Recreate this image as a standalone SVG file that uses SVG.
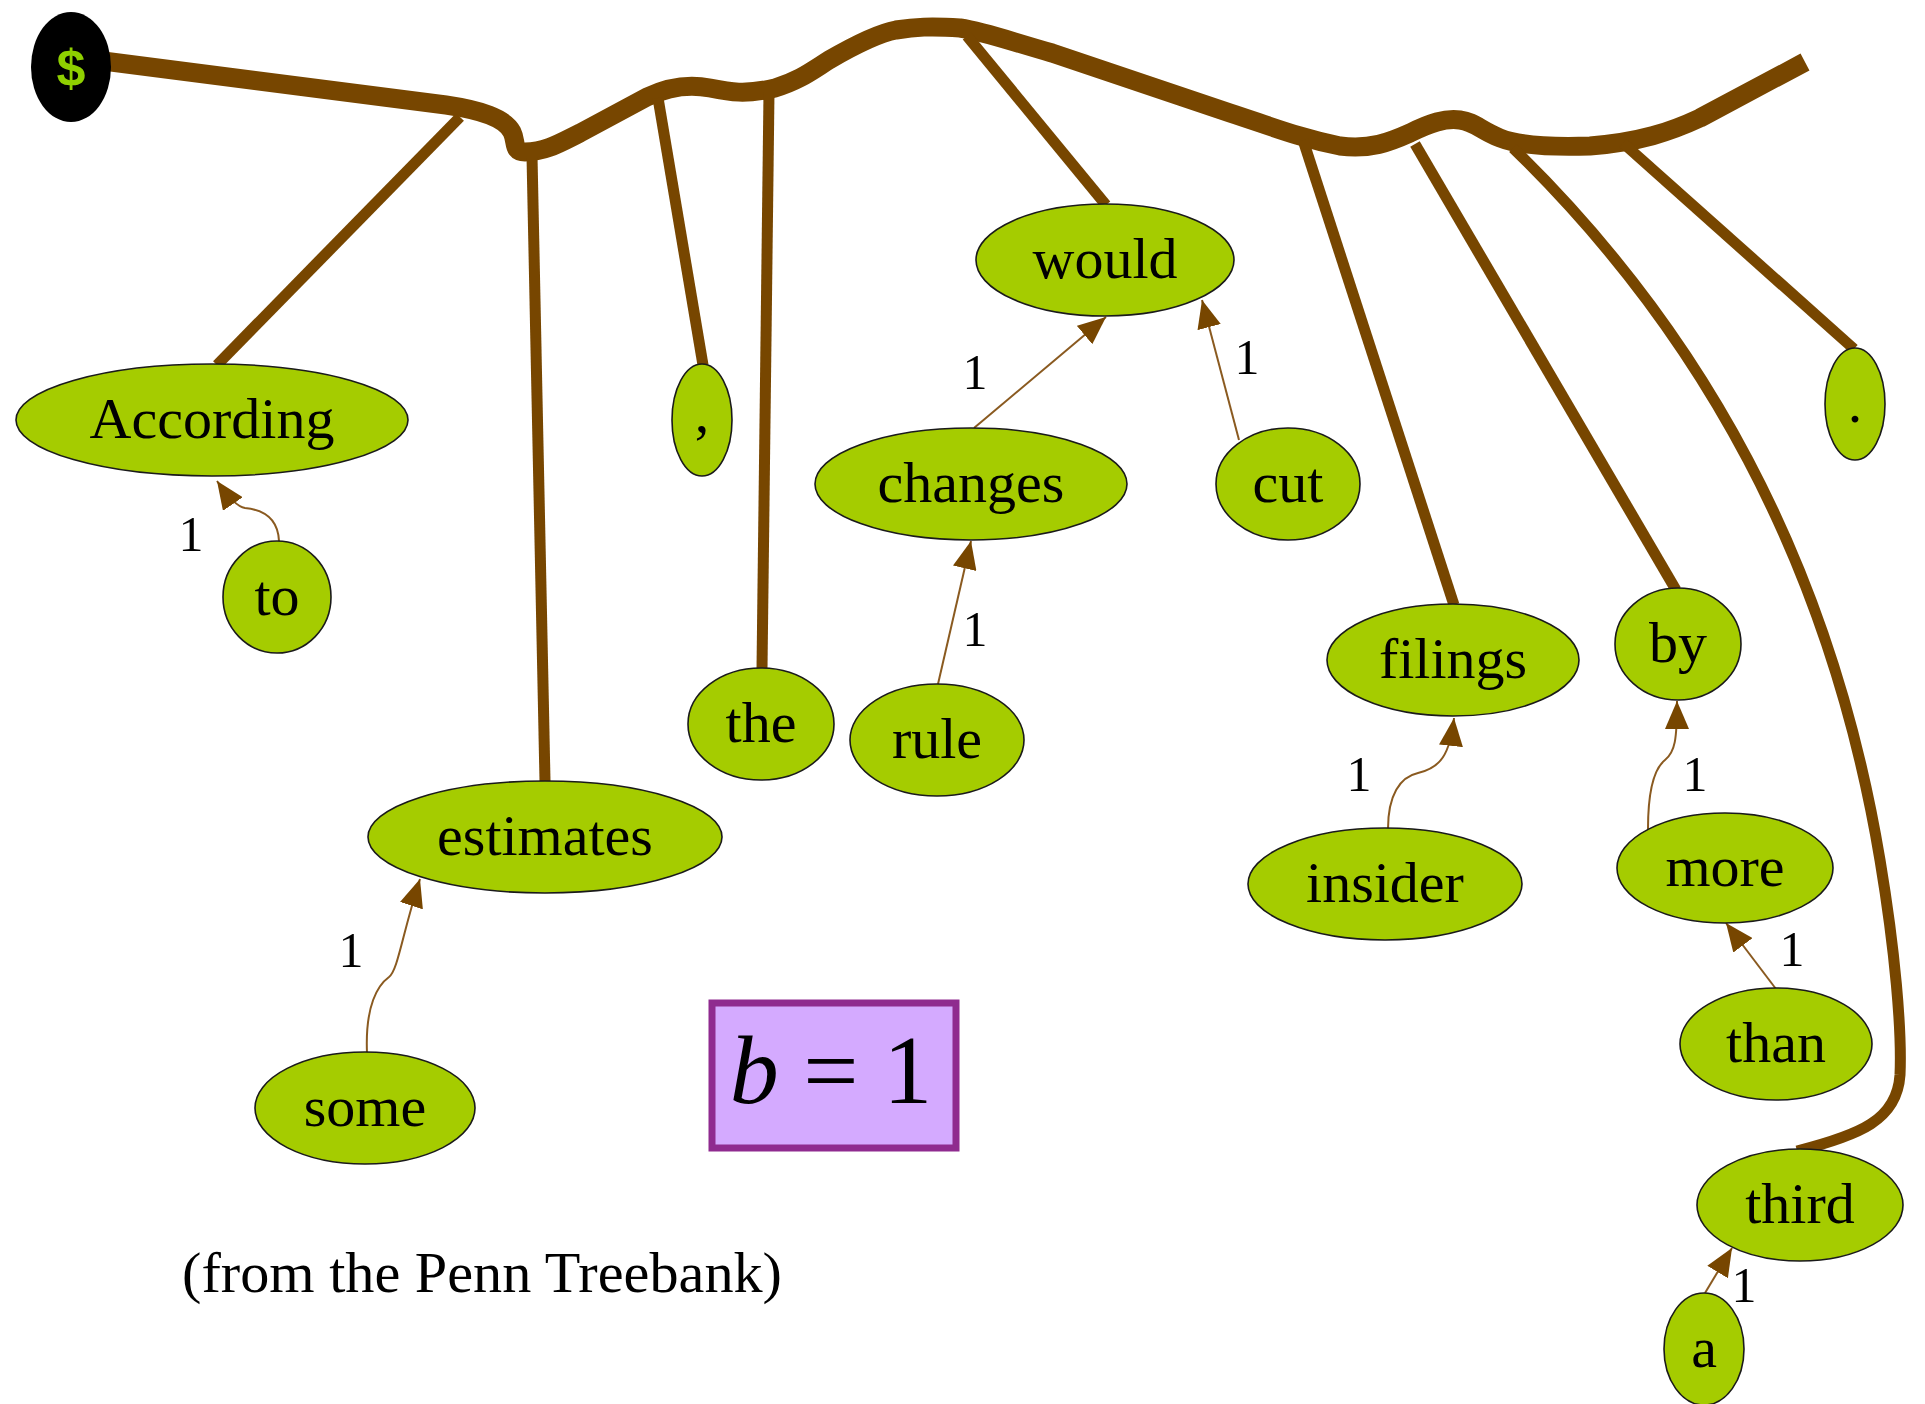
<svg xmlns="http://www.w3.org/2000/svg" width="1925" height="1404" viewBox="0 0 1925 1404">
<defs>
<style>
.bb{fill:none;stroke:#774600;stroke-width:19;stroke-linejoin:round}
.br{fill:none;stroke:#774600;stroke-width:11}
.ar{fill:none;stroke:#8a5a20;stroke-width:2}
.nd{fill:#a5cc00;stroke:#1a1a1a;stroke-width:1.6}
.tx{font-family:"Liberation Serif","Times New Roman",serif;font-size:58px;fill:#000;text-anchor:middle}
.lb{font-family:"Liberation Serif","Times New Roman",serif;font-size:50px;fill:#000;text-anchor:middle}
</style>
<marker id="ah" markerUnits="userSpaceOnUse" viewBox="0 0 28 24" refX="28" refY="12" markerWidth="28" markerHeight="24" orient="auto"><path d="M0,0 L28,12 L0,24 z" fill="#774600"/></marker>
</defs>
<rect width="1925" height="1404" fill="#fff"/>
<g id="connectors">
<path class="bb" d="M80,58 L446,105 C480,110 505,118 512,132 C517,142 512,152 525,152 C545,152 560,143 580,133 L647,97 C670,86 690,84 710,88 C730,92 745,95 775,88 C800,80 810,72 829,60 C860,42 880,33 896,30 C915,27 930,26 960,28 C985,32 1000,38 1052,53 L1141,83 L1230,113 C1270,126 1300,138 1340,146 C1370,150 1390,142 1410,133 C1430,123 1445,118 1460,120 C1475,122 1480,130 1500,138 C1520,146 1560,147 1590,146 C1640,142 1670,132 1700,118 L1805,62"/>
<path class="br" d="M460,117 L217,365"/>
<path class="br" d="M532,156 L545,781"/>
<path class="br" d="M658,98 L703,365"/>
<path class="br" d="M769,92 L762,669"/>
<path class="br" d="M967,36 L1106,205"/>
<path class="br" d="M1303,140 L1454,605"/>
<path class="br" d="M1415,144 L1676,590"/>
<path class="br" d="M1513,148 C1700,330 1830,560 1880,860 C1895,950 1902,1030 1900,1075 C1897,1120 1860,1135 1797,1151"/>
<path class="br" d="M1623,143 L1854,349"/>
<path class="ar" marker-end="url(#ah)" d="M279,541 C278,520 265,510 245,508 C238,507 228,497 217,481"/>
<path class="ar" marker-end="url(#ah)" d="M367,1053 C365,1005 378,985 389,977 C398,970 402,935 420,879"/>
<path class="ar" marker-end="url(#ah)" d="M974,428 L1106,317"/>
<path class="ar" marker-end="url(#ah)" d="M1239,440 L1202,300"/>
<path class="ar" marker-end="url(#ah)" d="M938,684 L971,541"/>
<path class="ar" marker-end="url(#ah)" d="M1388,829 C1388,795 1400,777 1418,773 C1440,768 1450,755 1454,718"/>
<path class="ar" marker-end="url(#ah)" d="M1648,829 C1648,790 1655,768 1665,760 C1675,752 1677,740 1677,701"/>
<path class="ar" marker-end="url(#ah)" d="M1776,989 L1726,923"/>
<path class="ar" marker-end="url(#ah)" d="M1705,1293 L1732,1248"/>
<text class="lb" x="191" y="551">1</text>
<text class="lb" x="351" y="967">1</text>
<text class="lb" x="975" y="389">1</text>
<text class="lb" x="1247" y="374">1</text>
<text class="lb" x="975" y="646">1</text>
<text class="lb" x="1359" y="791">1</text>
<text class="lb" x="1695" y="791">1</text>
<text class="lb" x="1792" y="966">1</text>
<text class="lb" x="1744" y="1302">1</text>
</g>
<g id="root"><ellipse cx="71" cy="67" rx="40" ry="55" fill="#000"/><text x="71" y="86" font-family="Liberation Sans, Arial, sans-serif" font-weight="bold" font-size="52" fill="#8fd000" text-anchor="middle">$</text></g>
<g id="n-according"><ellipse class="nd" cx="212" cy="420" rx="196" ry="56"/><text class="tx" x="212" y="438">According</text></g>
<g id="n-to"><ellipse class="nd" cx="277" cy="597" rx="54" ry="56"/><text class="tx" x="277" y="615">to</text></g>
<g id="n-estimates"><ellipse class="nd" cx="545" cy="837" rx="177" ry="56"/><text class="tx" x="545" y="855">estimates</text></g>
<g id="n-some"><ellipse class="nd" cx="365" cy="1108" rx="110" ry="56"/><text class="tx" x="365" y="1126">some</text></g>
<g id="n-comma"><ellipse class="nd" cx="702" cy="420" rx="30" ry="56"/><text class="tx" x="702" y="432">,</text></g>
<g id="n-the"><ellipse class="nd" cx="761" cy="724" rx="73" ry="56"/><text class="tx" x="761" y="742">the</text></g>
<g id="n-rule"><ellipse class="nd" cx="937" cy="740" rx="87" ry="56"/><text class="tx" x="937" y="758">rule</text></g>
<g id="n-changes"><ellipse class="nd" cx="971" cy="484" rx="156" ry="56"/><text class="tx" x="971" y="502">changes</text></g>
<g id="n-would"><ellipse class="nd" cx="1105" cy="260" rx="129" ry="56"/><text class="tx" x="1105" y="278">would</text></g>
<g id="n-cut"><ellipse class="nd" cx="1288" cy="484" rx="72" ry="56"/><text class="tx" x="1288" y="502">cut</text></g>
<g id="n-filings"><ellipse class="nd" cx="1453" cy="660" rx="126" ry="56"/><text class="tx" x="1453" y="678">filings</text></g>
<g id="n-insider"><ellipse class="nd" cx="1385" cy="884" rx="137" ry="56"/><text class="tx" x="1385" y="902">insider</text></g>
<g id="n-by"><ellipse class="nd" cx="1678" cy="644" rx="63" ry="56"/><text class="tx" x="1678" y="662">by</text></g>
<g id="n-more"><ellipse class="nd" cx="1725" cy="868" rx="108" ry="55"/><text class="tx" x="1725" y="886">more</text></g>
<g id="n-than"><ellipse class="nd" cx="1776" cy="1044" rx="96" ry="56"/><text class="tx" x="1776" y="1062">than</text></g>
<g id="n-third"><ellipse class="nd" cx="1800" cy="1205" rx="103" ry="56"/><text class="tx" x="1800" y="1223">third</text></g>
<g id="n-a"><ellipse class="nd" cx="1704" cy="1349" rx="40" ry="56"/><text class="tx" x="1704" y="1367">a</text></g>
<g id="n-period"><ellipse class="nd" cx="1855" cy="404" rx="30" ry="56"/><text class="tx" x="1855" y="422">.</text></g>
<g id="b-box"><rect x="712" y="1003" width="244" height="145" fill="#d4aaff" stroke="#8f2b8f" stroke-width="7"/><text x="831" y="1103" font-family="Liberation Serif, Times New Roman, serif" font-size="98" text-anchor="middle"><tspan font-style="italic">b</tspan> = 1</text></g>
<text x="182" y="1292" font-family="Liberation Serif, Times New Roman, serif" font-size="57" textLength="600" lengthAdjust="spacingAndGlyphs">(from the Penn Treebank)</text>
</svg>
